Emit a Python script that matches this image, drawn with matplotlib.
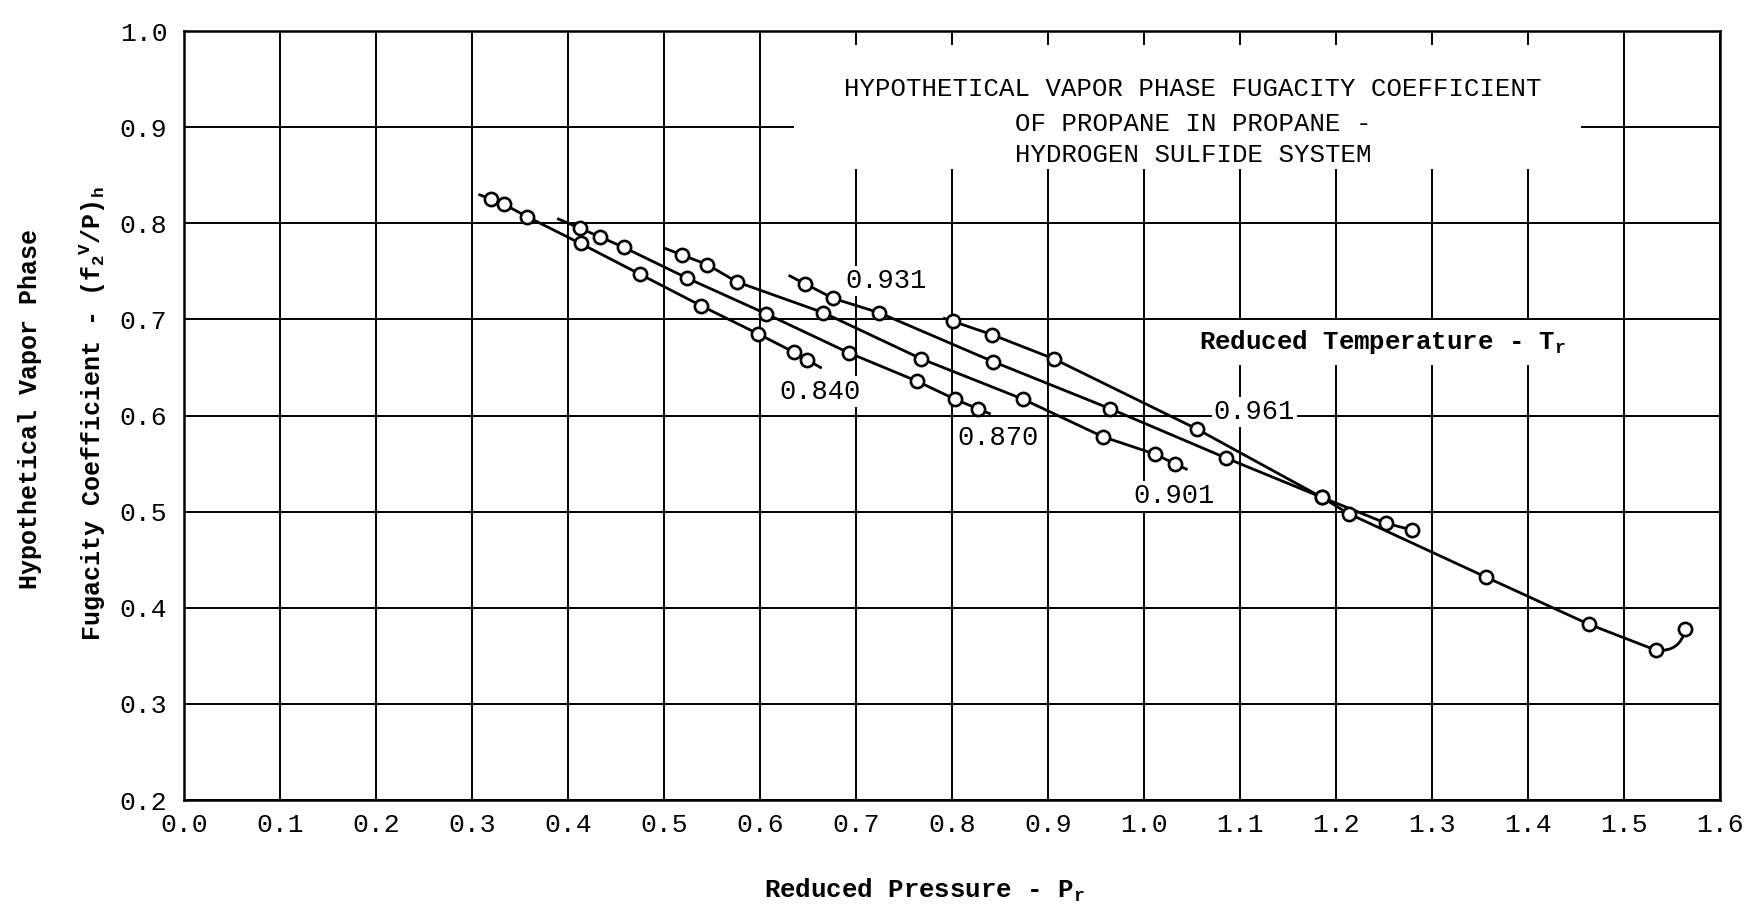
import numpy as np
import matplotlib
matplotlib.use("Agg")
import matplotlib.pyplot as plt
from matplotlib.patches import Rectangle

plt.rcParams['font.family'] = ['Liberation Mono', 'DejaVu Sans Mono']
plt.rcParams['mathtext.default'] = 'regular'

# reduced pressure Pr and fugacity coefficient (f2V/P)h for each isotherm
pr_840 = [0.320, 0.333, 0.357, 0.413, 0.475, 0.539, 0.598, 0.635, 0.649]
phi_840 = [0.825, 0.820, 0.807, 0.779, 0.747, 0.714, 0.685, 0.666, 0.658]

pr_870 = [0.412, 0.433, 0.458, 0.524, 0.606, 0.693, 0.763, 0.803, 0.827]
phi_870 = [0.795, 0.786, 0.775, 0.743, 0.706, 0.665, 0.636, 0.617, 0.607]

pr_901 = [0.519, 0.545, 0.576, 0.666, 0.768, 0.874, 0.957, 1.011, 1.032]
phi_901 = [0.767, 0.757, 0.739, 0.707, 0.659, 0.617, 0.578, 0.560, 0.550]

pr_931 = [0.647, 0.676, 0.724, 0.843, 0.965, 1.085, 1.185, 1.252, 1.279]
phi_931 = [0.737, 0.722, 0.707, 0.656, 0.607, 0.556, 0.515, 0.488, 0.481]

pr_961 = [0.801, 0.842, 0.906, 1.055, 1.185, 1.213, 1.356, 1.463, 1.533, 1.564]
phi_961 = [0.698, 0.684, 0.659, 0.586, 0.515, 0.498, 0.432, 0.383, 0.356, 0.378]

tr_labels = ['0.840', '0.870', '0.901', '0.931', '0.961']

x_ticks = np.round(np.arange(0.0, 1.61, 0.1), 1)
y_ticks = np.round(np.arange(0.2, 1.01, 0.1), 1)


def extend(x, y, lead, tail):
    # stretch the drawn curve a little past the first and last points
    x = np.asarray(x, float)
    y = np.asarray(y, float)
    s0 = (y[1] - y[0]) / (x[1] - x[0])
    s1 = (y[-1] - y[-2]) / (x[-1] - x[-2])
    xs = np.concatenate([[x[0] - lead], x, [x[-1] + tail]])
    ys = np.concatenate([[y[0] - lead * s0], y, [y[-1] + tail * s1]])
    return xs, ys


fig = plt.figure(figsize=(17.48, 9.16), dpi=100)
ax = fig.add_axes([0.1053, 0.1266, 0.8787, 0.8395])

ax.set_xlim(0.0, 1.6)
ax.set_ylim(0.2, 1.0)
ax.set_xticks(x_ticks)
ax.set_yticks(y_ticks)
ax.set_xticklabels(['%.1f' % v for v in x_ticks])
ax.set_yticklabels(['%.1f' % v for v in y_ticks])
ax.tick_params(length=0, labelsize=19, pad=9)
ax.tick_params(axis='y', pad=12)
ax.grid(True, color='black', linewidth=1.4)
ax.set_axisbelow(True)
for sp in ax.spines.values():
    sp.set_linewidth(1.8)

lw = 2.0
mk = dict(markersize=9.5, markerfacecolor='white', markeredgecolor='black',
          markeredgewidth=1.9, zorder=3)

curves = [(pr_840, phi_840, 0.012, 0.014),
          (pr_870, phi_870, 0.022, 0.012),
          (pr_901, phi_901, 0.018, 0.012),
          (pr_931, phi_931, 0.016, 0.0)]
for x, y, lead, tail in curves:
    xs, ys = extend(x, y, lead, tail)
    ax.plot(xs, ys, color='black', linewidth=lw, zorder=2)
    ax.plot(x, y, 'o', **mk)

# highest isotherm ends with a hook up to its last point
xs, ys = extend(pr_961[:-1], phi_961[:-1], 0.009, 0.0)
ax.plot(xs, ys, color='black', linewidth=lw, zorder=2)
ax.annotate('', xy=(pr_961[-1], phi_961[-1]), xytext=(pr_961[-2], phi_961[-2]),
            arrowprops=dict(arrowstyle='-', color='black', linewidth=lw,
                            shrinkA=0, shrinkB=0,
                            connectionstyle='arc3,rad=0.45'), zorder=2)
ax.plot(pr_961, phi_961, 'o', **mk)

# isotherm labels
label_pos = [(0.662, 0.625), (0.848, 0.577), (1.031, 0.516), (0.731, 0.740), (1.115, 0.604)]
for txt, (lx, ly) in zip(tr_labels, label_pos):
    ax.text(lx, ly, txt, fontsize=19.5, ha='center', va='center', zorder=4,
            bbox=dict(facecolor='white', edgecolor='none', pad=1.5))

# title block sits on a blank patch of the grid
ax.add_patch(Rectangle((0.635, 0.857), 0.82, 0.128, facecolor='white',
                       edgecolor='none', zorder=1))
ax.text(1.051, 0.940, 'HYPOTHETICAL VAPOR PHASE FUGACITY COEFFICIENT',
        fontsize=18.5, ha='center', va='center', zorder=4)
ax.text(1.051, 0.903, 'OF PROPANE IN PROPANE -',
        fontsize=18.5, ha='center', va='center', zorder=4)
ax.text(1.051, 0.871, 'HYDROGEN SULFIDE SYSTEM',
        fontsize=18.5, ha='center', va='center', zorder=4)

ax.text(1.248, 0.676, 'Reduced Temperature - T$_r$', fontsize=18.5,
        fontweight='bold', ha='center', va='center', zorder=4,
        bbox=dict(facecolor='white', edgecolor='none', pad=6))

fig.text(0.529, 0.028, 'Reduced Pressure - P$_r$', fontsize=18.5,
         fontweight='bold', ha='center', va='center')
fig.text(0.017, 0.553, 'Hypothetical Vapor Phase', fontsize=18,
         fontweight='bold', rotation=90, ha='center', va='center')
fig.text(0.053, 0.548, 'Fugacity Coefficient - (f$_2$$^V$/P)$_h$', fontsize=18,
         fontweight='bold', rotation=90, ha='center', va='center')

fig.savefig('out.png', dpi=100, facecolor='white')
